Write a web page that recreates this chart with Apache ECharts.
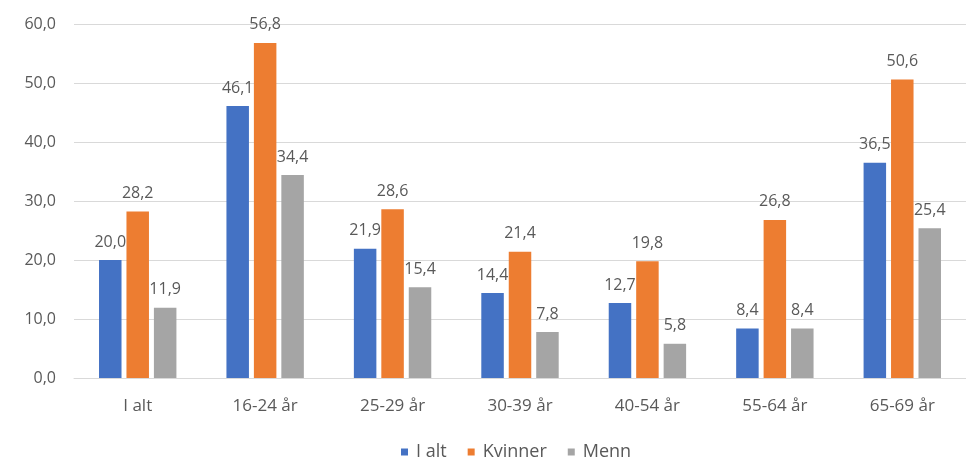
<!DOCTYPE html>
<html><head><meta charset="utf-8">
<script src="https://cdn.jsdelivr.net/npm/echarts@6/dist/echarts.min.js"></script>
<style>html,body{margin:0;padding:0;background:#fff}#c{width:966px;height:458px}</style>
</head><body><div id="c"></div>
<script>
const categories = ["I alt", "16-24 år", "25-29 år", "30-39 år", "40-54 år", "55-64 år", "65-69 år"];
const iAlt = [20.0, 46.1, 21.9, 14.4, 12.7, 8.4, 36.5];
const kvinner = [28.2, 56.8, 28.6, 21.4, 19.8, 26.8, 50.6];
const menn = [11.9, 34.4, 15.4, 7.8, 5.8, 8.4, 25.4];
const seriesNames = ["I alt", "Kvinner", "Menn"];
const colors = ["#4472C4", "#ED7D31", "#A5A5A5"];

const font = "Open Sans";
const txt = "#595959";
const fmt = v => v.toFixed(1).replace('.', ',');
const chart = echarts.init(document.getElementById('c'), null, {renderer: 'canvas'});
const mk = (name, data, color) => ({
  name, type: 'bar', data, barWidth: 22.5, barGap: '22%',
  itemStyle: {color},
  label: {show: true, position: 'top', distance: 10, color: txt, fontFamily: font, fontSize: 16,
    formatter: p => fmt(p.value)}
});
chart.setOption({
  animation: false,
  textStyle: {fontFamily: font},
  grid: {left: 74, top: 24, width: 900, height: 354, containLabel: false},
  legend: {
    left: 396, top: 438, itemWidth: 7, itemHeight: 7, itemGap: 21, icon: 'rect',
    textStyle: {color: txt, fontFamily: font, fontSize: 18, padding: [0, 0, 0, 3]},
    data: seriesNames
  },
  xAxis: {
    type: 'category', data: categories,
    axisLine: {lineStyle: {color: '#D9D9D9'}}, axisTick: {show: false},
    axisLabel: {color: txt, fontFamily: font, fontSize: 17, margin: 20}
  },
  yAxis: {
    type: 'value', min: 0, max: 60, interval: 10,
    axisLine: {show: false}, axisTick: {show: false},
    splitLine: {lineStyle: {color: '#D9D9D9'}},
    axisLabel: {color: txt, fontFamily: font, fontSize: 16, margin: 18, formatter: v => fmt(v)}
  },
  series: [mk(seriesNames[0], iAlt, colors[0]), mk(seriesNames[1], kvinner, colors[1]), mk(seriesNames[2], menn, colors[2])]
});
</script></body></html>
